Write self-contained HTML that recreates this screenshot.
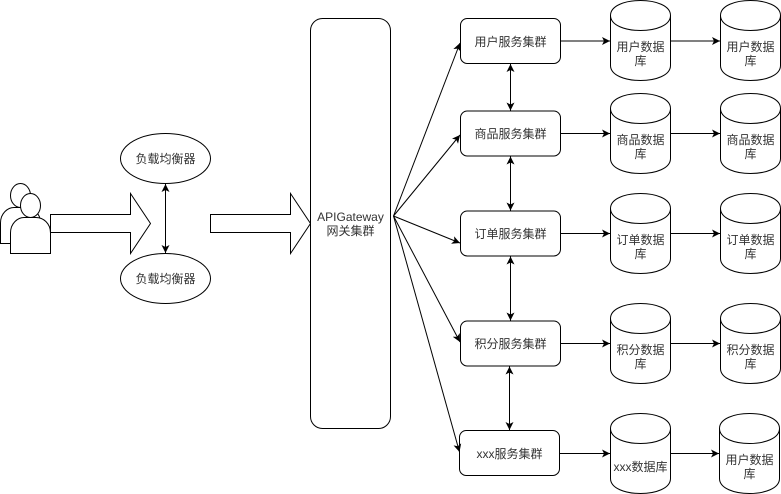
<!DOCTYPE html>
<html><head><meta charset="utf-8"><style>
html,body{margin:0;padding:0;background:#fff}
svg{display:block}
text{font-family:"Liberation Sans","Noto Sans CJK SC",sans-serif;font-size:12px;fill:#333;text-anchor:middle}
</style></head><body>
<svg width="781" height="494" viewBox="0 0 781 494" xmlns="http://www.w3.org/2000/svg">
<defs>
<marker id="a" markerUnits="userSpaceOnUse" markerWidth="10" markerHeight="10" refX="8" refY="4" orient="auto-start-reverse"><path d="M0 0L8 4L0 8L2 4Z" fill="#000"/></marker>
</defs>
<g fill="#fff" stroke="#000" stroke-width="1">
<!-- users -->
<ellipse cx="20.5" cy="195.5" rx="10" ry="12"/>
<path d="M0.5 243.5V223C0.5 213 8 207.5 14 207.5H26C33 207.5 40.5 213 40.5 223V243.5Z"/>
<ellipse cx="30.5" cy="205.5" rx="10" ry="12"/>
<path d="M10.5 253.5V233C10.5 223 18 217.5 24 217.5H36C43 217.5 50.5 223 50.5 233V253.5Z"/>
<!-- big arrows -->
<path d="M50.5 214.5H130.5V193.5L150.5 223.5L130.5 253.5V232.5H50.5Z"/>
<path d="M210.5 214.5H290.5V193.5L310.5 223.5L290.5 253.5V232.5H210.5Z"/>
<!-- balancers -->
<ellipse cx="165.5" cy="158.5" rx="45" ry="25"/>
<ellipse cx="165.5" cy="278.5" rx="45" ry="25"/>
<!-- gateway -->
<rect x="310.5" y="18.5" width="80" height="410" rx="12" ry="12"/>
<!-- services -->
<rect x="460.5" y="18.5" width="100" height="45" rx="6.75"/>
<rect x="460.5" y="111" width="100" height="45" rx="6.75"/>
<rect x="460.5" y="211" width="100" height="45" rx="6.75"/>
<rect x="460.5" y="321" width="100" height="45" rx="6.75"/>
<rect x="459.5" y="430.5" width="100" height="45" rx="6.75"/>
<!-- cylinders -->
<path d="M610.5 15.5C610.5 -4.5 670.5 -4.5 670.5 15.5V65.5C670.5 85.5 610.5 85.5 610.5 65.5ZM610.5 15.5C610.5 35.5 670.5 35.5 670.5 15.5"/>
<path d="M720.5 15.5C720.5 -4.5 780.5 -4.5 780.5 15.5V65.5C780.5 85.5 720.5 85.5 720.5 65.5ZM720.5 15.5C720.5 35.5 780.5 35.5 780.5 15.5"/>
<path d="M610.5 108.5C610.5 88.5 670.5 88.5 670.5 108.5V158.5C670.5 178.5 610.5 178.5 610.5 158.5ZM610.5 108.5C610.5 128.5 670.5 128.5 670.5 108.5"/>
<path d="M720.5 108.5C720.5 88.5 780.5 88.5 780.5 108.5V158.5C780.5 178.5 720.5 178.5 720.5 158.5ZM720.5 108.5C720.5 128.5 780.5 128.5 780.5 108.5"/>
<path d="M610.5 208.5C610.5 188.5 670.5 188.5 670.5 208.5V258.5C670.5 278.5 610.5 278.5 610.5 258.5ZM610.5 208.5C610.5 228.5 670.5 228.5 670.5 208.5"/>
<path d="M720.5 208.5C720.5 188.5 780.5 188.5 780.5 208.5V258.5C780.5 278.5 720.5 278.5 720.5 258.5ZM720.5 208.5C720.5 228.5 780.5 228.5 780.5 208.5"/>
<path d="M610.5 318.5C610.5 298.5 670.5 298.5 670.5 318.5V368.5C670.5 388.5 610.5 388.5 610.5 368.5ZM610.5 318.5C610.5 338.5 670.5 338.5 670.5 318.5"/>
<path d="M720.5 318.5C720.5 298.5 780.5 298.5 780.5 318.5V368.5C780.5 388.5 720.5 388.5 720.5 368.5ZM720.5 318.5C720.5 338.5 780.5 338.5 780.5 318.5"/>
<path d="M610.5 428.5C610.5 408.5 670.5 408.5 670.5 428.5V478.5C670.5 498.5 610.5 498.5 610.5 478.5ZM610.5 428.5C610.5 448.5 670.5 448.5 670.5 428.5"/>
<path d="M719.5 428.5C719.5 408.5 779.5 408.5 779.5 428.5V478.5C779.5 498.5 719.5 498.5 719.5 478.5ZM719.5 428.5C719.5 448.5 779.5 448.5 779.5 428.5"/>
</g>
<g fill="none" stroke="#000" stroke-width="1">
<!-- double arrows -->
<path d="M165.5 184V253" marker-start="url(#a)" marker-end="url(#a)"/>
<path d="M510.5 64V110.5" marker-start="url(#a)" marker-end="url(#a)"/>
<path d="M510.5 156.5V210.5" marker-start="url(#a)" marker-end="url(#a)"/>
<path d="M510.5 256.5V320.5" marker-start="url(#a)" marker-end="url(#a)"/>
<path d="M509.5 366.5V430" marker-start="url(#a)" marker-end="url(#a)"/>
<!-- gateway fan -->
<path d="M393.5 216L460 43" marker-end="url(#a)"/>
<path d="M393.5 216L460 135" marker-end="url(#a)"/>
<path d="M393.5 216L460 243" marker-end="url(#a)"/>
<path d="M393.5 216L460 342" marker-end="url(#a)"/>
<path d="M393.5 216L459.5 452" marker-end="url(#a)"/>
<!-- horizontals -->
<path d="M560.5 41H610" marker-end="url(#a)"/>
<path d="M670.5 41H720" marker-end="url(#a)"/>
<path d="M560.5 133.5H610" marker-end="url(#a)"/>
<path d="M670.5 133.5H720" marker-end="url(#a)"/>
<path d="M560.5 233.5H610" marker-end="url(#a)"/>
<path d="M670.5 233.5H720" marker-end="url(#a)"/>
<path d="M560.5 343.5H610" marker-end="url(#a)"/>
<path d="M670.5 343.5H720" marker-end="url(#a)"/>
<path d="M559.5 453.5H610" marker-end="url(#a)"/>
<path d="M670.5 453.5H719" marker-end="url(#a)"/>
</g>
<text x="165.5" y="163">负载均衡器</text>
<text x="165.5" y="283">负载均衡器</text>
<text x="350.5" y="221">APIGateway</text>
<text x="350.5" y="235">网关集群</text>
<text x="510.5" y="46">用户服务集群</text>
<text x="510.5" y="138">商品服务集群</text>
<text x="510.5" y="238">订单服务集群</text>
<text x="510.5" y="348">积分服务集群</text>
<text x="509.5" y="458">xxx服务集群</text>
<text x="640.5" y="51">用户数据</text><text x="640.5" y="65">库</text>
<text x="750.5" y="51">用户数据</text><text x="750.5" y="65">库</text>
<text x="640.5" y="144">商品数据</text><text x="640.5" y="158">库</text>
<text x="750.5" y="144">商品数据</text><text x="750.5" y="158">库</text>
<text x="640.5" y="244">订单数据</text><text x="640.5" y="258">库</text>
<text x="750.5" y="244">订单数据</text><text x="750.5" y="258">库</text>
<text x="640.5" y="354">积分数据</text><text x="640.5" y="368">库</text>
<text x="750.5" y="354">积分数据</text><text x="750.5" y="368">库</text>
<text x="640.5" y="471">xxx数据库</text>
<text x="749.5" y="464">用户数据</text><text x="749.5" y="478">库</text>
</svg>
</body></html>
